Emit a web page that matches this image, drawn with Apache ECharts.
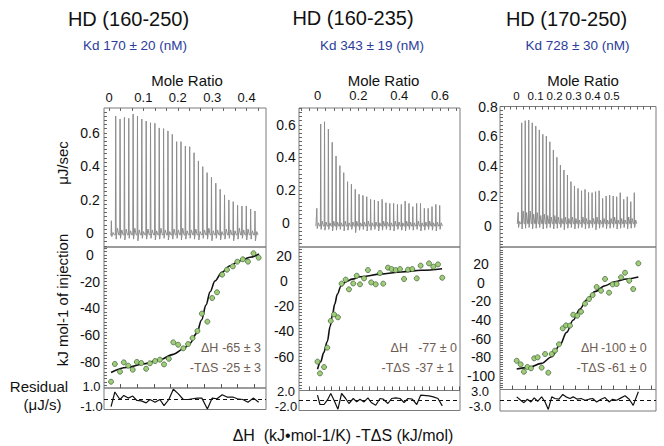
<!DOCTYPE html>
<html><head><meta charset="utf-8">
<script src="https://cdn.jsdelivr.net/npm/echarts@6/dist/echarts.min.js"></script>
<style>html,body{margin:0;padding:0;background:#fff}#c{width:664px;height:446px}</style>
</head><body><div id="c"></div>
<script>
// ---------------- DATA ----------------
const titles = ['HD (160-250)', 'HD (160-235)', 'HD (170-250)'];
const kdTexts = ['Kd 170 ± 20 (nM)', 'Kd 343 ± 19 (nM)', 'Kd 728 ± 30 (nM)'];
const dHValues = ['-65 ± 3', '-77 ± 0', '-100 ± 0'];
const tdSValues = ['-25 ± 3', '-37 ± 1', '-61 ± 0'];

// tick labels
const moleLabels1 = [0, 0.1, 0.2, 0.3, 0.4];
const moleLabels2 = [0, 0.2, 0.4, 0.6];
const moleLabels3 = [0, 0.1, 0.2, 0.3, 0.4, 0.5];
const powerLabels1 = [0, 0.2, 0.4, 0.6];
const powerLabels2 = [0, 0.2, 0.4, 0.6];
const powerLabels3 = [0, 0.2, 0.4, 0.6, 0.8];
const heatLabels1 = [-80, -60, -40, -20, 0];
const heatLabels2 = [-60, -40, -20, 0, 20];
const heatLabels3 = [-100, -80, -60, -40, -20, 0, 20];
const residLabels1 = [-1, 1];
const residLabels2 = [-2, 2];
const residLabels3 = [-3, 3];

// thermograms: pre-injection peak, then one peak per injection (µJ/s)
const thermo1Pre = 0.075;
const thermo1Peaks = [0.700,0.682,0.692,0.686,0.712,0.700,0.682,0.670,0.660,0.657,0.629,0.625,0.611,0.591,0.547,0.547,0.521,0.517,0.481,0.432,0.398,0.362,0.334,0.299,0.263,0.229,0.199,0.189,0.167,0.163,0.163,0.145,0.133];
const thermo1Dip = [-0.02,-0.035,-0.03,-0.04,-0.03,-0.035,-0.045,-0.03,-0.035,-0.03,-0.04,-0.035,-0.03,-0.04,-0.035,-0.03,-0.04,-0.035,-0.03,-0.035,-0.04,-0.03,-0.035,-0.045,-0.03,-0.04,-0.035,-0.03,-0.045,-0.035,-0.03,-0.04,-0.035,-0.045];
const thermo1Bump = [0.005,0.03,0.02,0.025,0.015,0.03,0.02,0.01,0.025,0.02,0.015,0.03,0.02,0.01,0.025,0.02,0.03,0.015,0.02,0.025,0.01,0.02,0.03,0.015,0.02,0.01,0.025,0.02,0.015,0.03,0.02,0.025,0.015,0.01];

const thermo2Pre = 0.089;
const thermo2Peaks = [0.605,0.619,0.574,0.493,0.409,0.350,0.307,0.252,0.236,0.205,0.175,0.168,0.160,0.144,0.140,0.133,0.144,0.123,0.119,0.119,0.113,0.113,0.133,0.119,0.099,0.119,0.119,0.089,0.089,0.099,0.113,0.107];
const thermo2Dip = [-0.035,-0.04,-0.045,-0.04,-0.05,-0.045,-0.04,-0.05,-0.045,-0.04,-0.06,-0.045,-0.04,-0.05,-0.045,-0.04,-0.05,-0.045,-0.04,-0.045,-0.05,-0.04,-0.045,-0.05,-0.04,-0.045,-0.04,-0.05,-0.045,-0.04,-0.045,-0.05,-0.04];
const thermo2Bump = [0.0,0.01,0.005,0.0,0.01,0.005,0.0,0.01,0.0,0.005,0.01,0.0,0.005,0.01,0.0,0.005,0.0,0.01,0.005,0.0,0.01,0.005,0.0,0.01,0.005,0.0,0.01,0.0,0.005,0.01,0.0,0.005,0.0];

const thermo3Pre = 0.092;
const thermo3Peaks = [0.691,0.705,0.709,0.691,0.669,0.643,0.614,0.602,0.564,0.509,0.460,0.408,0.375,0.341,0.297,0.268,0.252,0.236,0.245,0.225,0.223,0.230,0.236,0.185,0.201,0.207,0.201,0.196,0.223,0.179,0.196,0.163,0.223];
const thermo3Dip = [-0.01,-0.02,-0.015,-0.01,-0.02,-0.015,-0.01,-0.02,-0.015,-0.01,-0.02,-0.015,-0.01,-0.025,-0.015,-0.01,-0.02,-0.015,-0.01,-0.02,-0.015,-0.01,-0.025,-0.015,-0.01,-0.02,-0.015,-0.01,-0.02,-0.015,-0.01,-0.02,-0.015,-0.01];
const thermo3Bump = [0.03,0.1,0.09,0.1,0.08,0.09,0.07,0.08,0.07,0.06,0.07,0.06,0.05,0.06,0.05,0.06,0.05,0.04,0.06,0.05,0.04,0.05,0.06,0.04,0.05,0.04,0.05,0.06,0.04,0.05,0.04,0.06,0.05,0.04];

// integrated heats (kJ/mol of injectant) vs mole ratio
const iso1X = [0.006,0.017,0.032,0.043,0.056,0.069,0.081,0.094,0.108,0.119,0.134,0.148,0.160,0.174,0.187,0.201,0.216,0.230,0.243,0.257,0.270,0.286,0.300,0.314,0.329,0.343,0.360,0.373,0.389,0.404,0.420,0.435];
const iso1Y = [-94.9,-81.6,-87.4,-80.4,-82.9,-85.9,-80.1,-80.9,-85.2,-81.1,-79.4,-78.4,-81.9,-77.7,-65.4,-67.2,-69.9,-66.7,-62.2,-56.9,-43.9,-49.9,-32.2,-27.9,-14.7,-11.0,-8.5,-5.0,-3.2,-5.0,1.3,-2.0];
const resid1 = [-0.73,0.63,-0.07,0.31,0.06,0.25,-0.16,-0.2,-0.38,-0.07,-0.32,-0.07,-0.64,-0.07,0.89,0.48,-0.07,-0.07,0,0.06,0.06,-0.95,0.06,0,0.38,0.16,0.16,0,-0.07,-0.32,0.06,-0.32];
const fit1X = [0.006,0.051,0.100,0.148,0.187,0.216,0.235,0.255,0.269,0.282,0.294,0.308,0.328,0.352,0.381,0.410,0.436];
const fit1Y = [-88,-84.3,-81.6,-78.4,-74.4,-70.4,-66.2,-58.7,-48.7,-37.5,-27.5,-19.5,-13.0,-8.0,-4.3,-1.7,0.75];

const iso2X = [0.000,0.012,0.032,0.048,0.065,0.081,0.100,0.118,0.138,0.154,0.175,0.192,0.208,0.228,0.247,0.263,0.285,0.306,0.322,0.345,0.363,0.383,0.404,0.424,0.443,0.464,0.486,0.505,0.546,0.567,0.590,0.611];
const iso2Y = [-64.0,-73.3,-68.3,-52.9,-31.7,-26.5,-28.8,-2.1,1.1,-6.6,-1.9,4.2,-2.6,2.1,8.7,-1.1,-2.6,6.3,-2.1,10.6,9.5,8.7,9.5,1.6,9.0,9.5,2.1,12.2,14.0,11.4,13.2,2.6];
const resid2 = [1.06,-0.8,-0.8,0.06,1.4,0.06,-1.74,1.4,0.4,-0.6,0.4,-0.28,0.26,-0.28,0.52,-0.4,-0.94,0.4,0.26,-0.6,0.4,0.52,0.4,-0.4,0.4,0.26,-0.8,1.06,0.92,0.72,0.4,-1.08];
const fit2X = [0.0,0.016,0.03,0.048,0.062,0.073,0.084,0.097,0.115,0.14,0.17,0.21,0.31,0.41,0.51,0.61];
const fit2Y = [-70,-64,-57,-48,-36,-27,-18.5,-10.5,-4,-0.5,1.5,3.4,5.5,7.2,8.5,9.8];

const iso3X = [0.001,0.022,0.039,0.057,0.076,0.093,0.111,0.132,0.150,0.167,0.185,0.202,0.223,0.243,0.260,0.281,0.298,0.319,0.339,0.360,0.381,0.400,0.421,0.444,0.465,0.486,0.505,0.526,0.549,0.570,0.592,0.613,0.640];
const iso3Y = [-83.6,-87.5,-95.4,-90.3,-91.7,-81.0,-79.9,-91.0,-76.4,-96.4,-76.4,-72.8,-66.0,-48.9,-45.7,-46.0,-34.3,-35.4,-31.1,-22.5,-17.5,-13.2,-4.6,-8.6,4.0,-10.7,-1.8,-1.4,5.8,10.7,2.1,-6.8,20.7];
const resid3 = [0.95,0,-0.67,0.29,-0.48,0.67,-0.29,0.95,-0.48,-2.57,0.95,0.48,0.29,1.62,0.95,0.48,0.95,0.29,0.48,0,0.29,0.48,-0.48,0.29,0.76,-0.48,0.29,0,0.67,1.24,0.29,-1.43,2.38];
const fit3X = [0.001,0.062,0.132,0.185,0.228,0.263,0.298,0.333,0.368,0.412,0.465,0.517,0.579,0.640];
const fit3Y = [-92.5,-91,-86.4,-79.3,-66.8,-53.2,-40,-28.2,-18.5,-9.6,-3.2,1.1,4.0,6.1];

// ---------------- LAYOUT ----------------
const FONT = '"Liberation Sans", Arial, sans-serif';
const panels = [
  {left:104,width:162,tTop:108,tH:139,iTop:247,iH:141,rTop:388,rH:21.5,
   xMin:-0.0145,xMax:0.4564,kMin:-1.69,kMax:35.53,tMin:-0.082,tMax:0.748,iMin:-99.6,iMax:6,rMin:-1,rMax:1,
   tLm:14,iLm:14,rLm:12.5,topM:4,topFs:13,nameGap:19.8,namePad:4,topStep:1/30,topFrom:0,isoT0:0.034,isoStep:0.0485,base:-0.01,
   resTopPad:[0,0,3,0],resBotPad:[0,0,6,0],
   moleL:moleLabels1,powL:powerLabels1,heatL:heatLabels1,resL:residLabels1,
   pre:thermo1Pre,peaks:thermo1Peaks,dip:thermo1Dip,bump:thermo1Bump,
   isoX:iso1X,isoY:iso1Y,res:resid1,fitX:fit1X,fitY:fit1Y,
   title:[128.5,19],kd:[135,45],dhL:218.3,tsL:218.3,dhV:261,tsV:261},
  {left:299,width:161,tTop:108,tH:139,iTop:247,iH:143.5,rTop:390.5,rH:20,
   xMin:-0.0906,xMax:0.6978,kMin:-4.65,kMax:37.29,tMin:-0.148,tMax:0.703,iMin:-86.9,iMax:27,rMin:-2,rMax:2,
   tLm:13,iLm:15,rLm:13,topM:6,topFs:13,nameGap:19.8,namePad:8,topStep:0.04,topFrom:-0.08,isoT0:-0.0416,isoStep:0.0369,base:-0.02,
   resTopPad:[2,0,0,0],resBotPad:[0,0,9,0],
   moleL:moleLabels2,powL:powerLabels2,heatL:heatLabels2,resL:residLabels2,
   pre:thermo2Pre,peaks:thermo2Peaks,dip:thermo2Dip,bump:thermo2Bump,
   isoX:iso2X,isoY:iso2Y,res:resid2,fitX:fit2X,fitY:fit2Y,
   title:[353,18],kd:[372,45],dhL:408,tsL:410,dhV:457,tsV:454},
  {left:500,width:156,tTop:106.5,tH:140.5,iTop:247,iH:142.5,rTop:389.5,rH:21.5,
   xMin:-0.0867,xMax:0.7327,kMin:-5.17,kMax:39.17,tMin:-0.1406,tMax:0.8,iMin:-114.4,iMax:38.25,rMin:-3,rMax:3,
   tLm:12,iLm:19,rLm:20,topM:5,topFs:11.5,nameGap:18.3,namePad:10,topStep:1/30,topFrom:-0.0667,isoT0:-0.022,isoStep:0.0665,base:0.015,
   resTopPad:[4,0,0,0],resBotPad:[0,0,10,0],
   moleL:moleLabels3,powL:powerLabels3,heatL:heatLabels3,resL:residLabels3,
   pre:thermo3Pre,peaks:thermo3Peaks,dip:thermo3Dip,bump:thermo3Bump,
   isoX:iso3X,isoY:iso3Y,res:resid3,fitX:fit3X,fitY:fit3Y,
   title:[566.5,19],kd:[577.5,45],dhL:598.3,tsL:605,dhV:646.7,tsV:646.7}
];

function steps(from, to, step) {
  const out = [];
  for (let k = 0; k < 500; k++) { const v = +(from + k * step).toFixed(6); if (v > to + 1e-9) break; out.push(v); }
  return out;
}
function stepsIn(min, max, step) { return steps(Math.ceil(min / step - 1e-9) * step, max, step); }
const fmt1 = v => (v === 0 ? '0' : String(+(+v).toFixed(1)));
const fmtInt = v => String(Math.round(v));

function thermoTrace(p) {
  const all = [p.pre].concat(p.peaks);
  const pts = [[-0.25, p.base]];
  all.forEach((h, k) => {
    pts.push([k - 0.08, p.base]);
    pts.push([k, h]);
    pts.push([k + 0.1, p.dip[k] !== undefined ? p.dip[k] : p.base]);
    pts.push([k + 0.4, p.bump[k] !== undefined ? p.bump[k] : p.base]);
    pts.push([k + 0.7, p.base]);
  });
  return pts;
}

const grid = [], xAxis = [], yAxis = [], series = [], graphic = [];
const labelStyle = {color: '#111', fontSize: 14, fontFamily: FONT};
const borderC = '#7a7a7a';
const noLine = {show: false, onZero: false};

panels.forEach((p, i) => {
  const g0 = grid.length;
  grid.push({left: p.left, width: p.width, top: p.tTop, height: p.tH, show: true, borderColor: borderC, borderWidth: 1, outerBoundsMode: 'none'});
  grid.push({left: p.left, width: p.width, top: p.iTop, height: p.iH, show: true, borderColor: borderC, borderWidth: 1, outerBoundsMode: 'none'});
  grid.push({left: p.left, width: p.width, top: p.rTop, height: p.rH, show: true, borderColor: borderC, borderWidth: 1, outerBoundsMode: 'none'});

  const x0 = xAxis.length;
  xAxis.push({gridIndex: g0, type: 'value', position: 'top', min: p.xMin, max: p.xMax,
    name: 'Mole Ratio', nameLocation: 'middle', nameGap: p.nameGap,
    nameTextStyle: {fontSize: 15, color: '#111', fontFamily: FONT, padding: [0, 0, 0, p.namePad]},
    axisLine: noLine, splitLine: {show: false},
    axisTick: {show: true, inside: true, length: 3, lineStyle: {color: '#666'}, customValues: steps(p.topFrom, p.xMax, p.topStep)},
    axisLabel: Object.assign({}, labelStyle, {customValues: p.moleL, formatter: fmt1, margin: p.topM, fontSize: p.topFs, hideOverlap: false})});
  xAxis.push({gridIndex: g0, type: 'value', min: p.kMin, max: p.kMax, show: false, axisLine: noLine});
  xAxis.push({gridIndex: g0 + 1, type: 'value', min: p.xMin, max: p.xMax,
    axisLine: noLine, splitLine: {show: false}, axisLabel: {show: false},
    axisTick: {show: true, inside: true, length: 4, lineStyle: {color: '#555'}, customValues: steps(p.isoT0, p.xMax, p.isoStep)}});
  xAxis.push({gridIndex: g0 + 2, type: 'value', min: p.xMin, max: p.xMax, show: false, axisLine: noLine});

  const y0 = yAxis.length;
  yAxis.push({gridIndex: g0, type: 'value', min: p.tMin, max: p.tMax,
    axisLine: noLine, splitLine: {show: false},
    axisTick: {show: true, inside: true, length: 3, lineStyle: {color: '#666'}, customValues: stepsIn(p.tMin, p.tMax, 0.025)},
    axisLabel: Object.assign({}, labelStyle, {customValues: p.powL, formatter: fmt1, margin: p.tLm, align: 'center'})});
  yAxis.push({gridIndex: g0 + 1, type: 'value', min: p.iMin, max: p.iMax,
    axisLine: noLine, splitLine: {show: false},
    axisTick: {show: true, inside: true, length: 3, lineStyle: {color: '#666'}, customValues: stepsIn(p.iMin, p.iMax, 2.5)},
    axisLabel: Object.assign({}, labelStyle, {customValues: p.heatL, formatter: fmtInt, margin: p.iLm, align: 'center'})});
  yAxis.push({gridIndex: g0 + 2, type: 'value', min: p.rMin, max: p.rMax,
    axisLine: noLine, splitLine: {show: false}, axisTick: {show: false},
    axisLabel: Object.assign({}, labelStyle, {customValues: p.resL, margin: p.rLm, align: 'center', fontSize: 13,
      formatter: v => (v > 0 ? '{t|' : '{b|') + (+v).toFixed(1) + '}',
      rich: {t: {fontSize: 13, fontFamily: FONT, color: '#111', padding: p.resTopPad},
             b: {fontSize: 13, fontFamily: FONT, color: '#111', padding: p.resBotPad}}})});

  series.push({type: 'line', xAxisIndex: x0 + 1, yAxisIndex: y0, data: thermoTrace(p), showSymbol: false,
    lineStyle: {color: '#8c8c8c', width: 1}, silent: true, animation: false});
  series.push({type: 'line', xAxisIndex: x0 + 2, yAxisIndex: y0 + 1, data: p.fitX.map((x, k) => [x, p.fitY[k]]),
    showSymbol: false, smooth: 0.35, smoothMonotone: 'x', lineStyle: {color: '#111', width: 1.6}, silent: true, animation: false, z: 2});
  series.push({type: 'scatter', xAxisIndex: x0 + 2, yAxisIndex: y0 + 1, data: p.isoX.map((x, k) => [x, p.isoY[k]]),
    symbolSize: 5, itemStyle: {color: '#9fce78', borderColor: '#4d6a42', borderWidth: 0.8, opacity: 1}, silent: true, animation: false, z: 3});
  series.push({type: 'line', xAxisIndex: x0 + 3, yAxisIndex: y0 + 2, data: p.isoX.map((x, k) => [x, p.res[k]]),
    showSymbol: false, lineStyle: {color: '#111', width: 1.2}, silent: true, animation: false,
    markLine: {silent: true, symbol: ['none', 'none'], label: {show: false}, animation: false,
      lineStyle: {color: '#111', width: 1, type: [4, 3]}, data: [{yAxis: 0}]}});

  const txt = (text, x, y, size, color, align) => ({type: 'text', x: x, y: y, silent: true,
    style: {text: text, x: 0, y: 0, font: size + 'px ' + FONT, fill: color, align: align, textAlign: align, verticalAlign: 'middle', textVerticalAlign: 'middle'}});
  graphic.push(txt(titles[i], p.title[0], p.title[1], 20, '#111', 'center'));
  graphic.push(txt(kdTexts[i], p.kd[0], p.kd[1], 13.5, '#2b3c9c', 'center'));
  const ac = '#6e5d53';
  graphic.push(txt('ΔH', p.dhL, 348.3, 12.5, ac, 'right'));
  graphic.push(txt(dHValues[i], p.dhV, 348.3, 12.5, ac, 'right'));
  graphic.push(txt('-TΔS', p.tsL, 368.3, 12.5, ac, 'right'));
  graphic.push(txt(tdSValues[i], p.tsV, 368.3, 12.5, ac, 'right'));
});

function rotText(text, x, y, size) {
  return {type: 'text', x: x, y: y, rotation: Math.PI / 2, silent: true,
    style: {text: text, x: 0, y: 0, font: size + 'px ' + FONT, fill: '#111', align: 'center', textAlign: 'center', verticalAlign: 'middle', textVerticalAlign: 'middle'}};
}
function plainText(text, x, y, size) {
  return {type: 'text', x: x, y: y, silent: true,
    style: {text: text, x: 0, y: 0, font: size + 'px ' + FONT, fill: '#111', align: 'center', textAlign: 'center', verticalAlign: 'middle', textVerticalAlign: 'middle'}};
}
graphic.push(rotText('μJ/sec', 62.5, 163, 15));
graphic.push(rotText('kJ mol-1 of injection', 62.5, 300, 15));
graphic.push(plainText('Residual', 39, 386.7, 15));
graphic.push(plainText('(μJ/s)', 42.5, 404.3, 15));
graphic.push(plainText('ΔH  (kJ•mol-1/K) -TΔS (kJ/mol)', 343, 435, 16));

const chart = echarts.init(document.getElementById('c'), null, {renderer: 'svg'});
chart.setOption({animation: false, backgroundColor: '#fff', grid, xAxis, yAxis, series, graphic});
</script></body></html>
